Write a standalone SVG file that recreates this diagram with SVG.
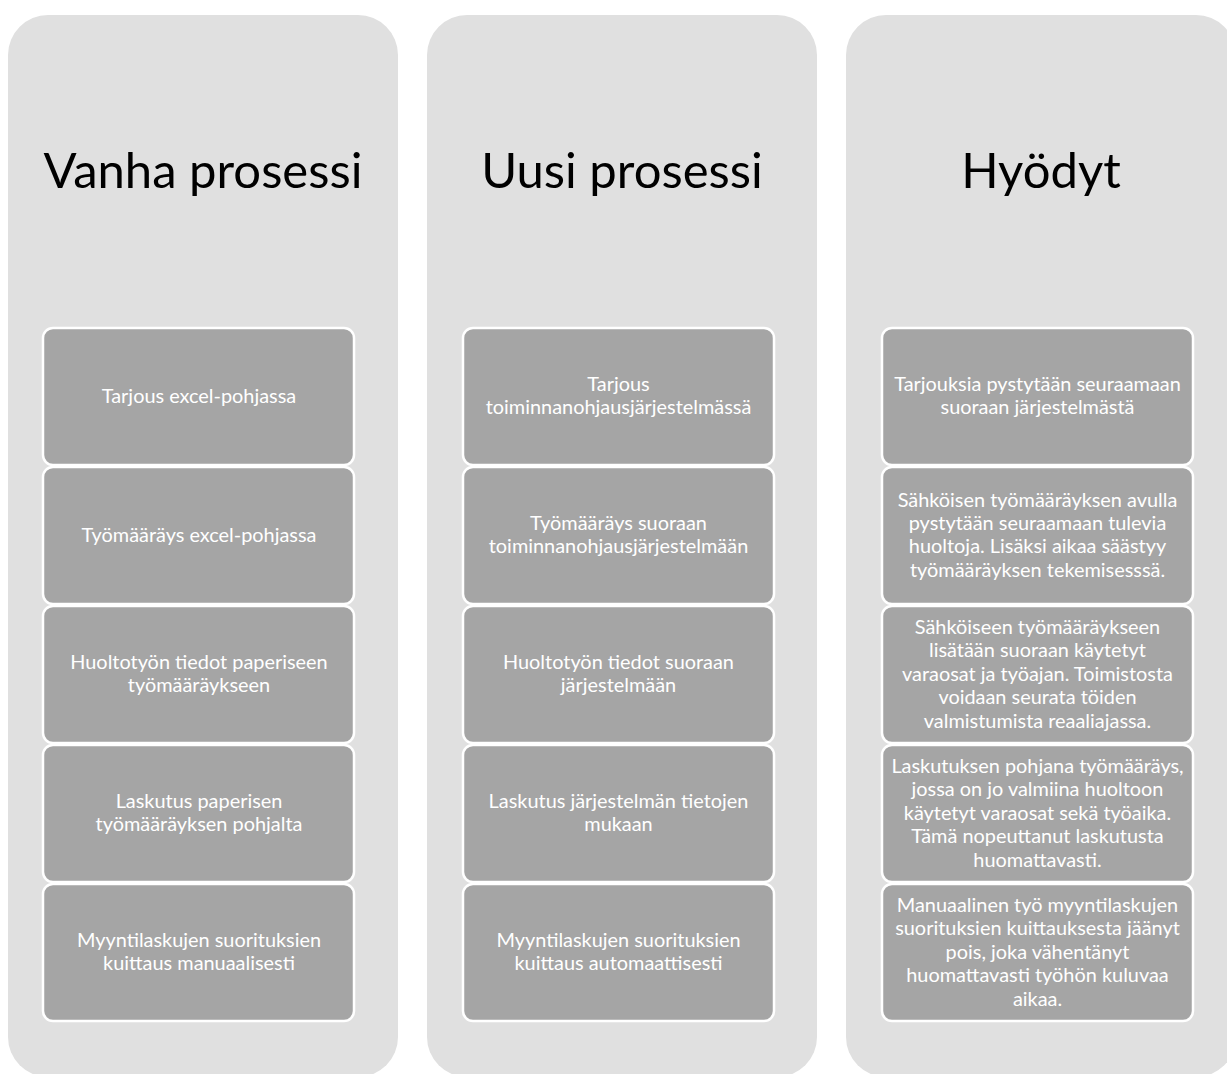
<svg xmlns="http://www.w3.org/2000/svg" width="1227" height="1074" viewBox="0 0 1227 1074">
  <style>
    .col { fill: #e0e0e0; }
    .box { fill: #a5a5a5; stroke: #ffffff; stroke-width: 2.5; }
    .head { font-family: Lato, "Liberation Sans", sans-serif; font-size: 49px; fill: #000000; text-anchor: middle; }
    .lbl { font-family: Lato, "Liberation Sans", sans-serif; font-size: 19.9px; fill: #ffffff; text-anchor: middle; }
  </style>
  <rect width="1227" height="1074" fill="#ffffff"/>

  <!-- Column 1: old process -->
  <g id="col-vanha">
    <rect class="col" x="8" y="15" width="390" height="1062" rx="40"/>
    <text class="head" x="203" y="188">Vanha prosessi</text>
  </g>
  <g id="vanha-1"><rect class="box" x="43" y="328" width="311" height="137" rx="10"/>
    <text class="lbl" x="199" y="402.75">Tarjous excel-pohjassa</text></g>
  <g id="vanha-2"><rect class="box" x="43" y="467" width="311" height="137" rx="10"/>
    <text class="lbl" x="199" y="541.75">Työmääräys excel-pohjassa</text></g>
  <g id="vanha-3"><rect class="box" x="43" y="606" width="311" height="137" rx="10"/>
    <text class="lbl" x="199" y="669.05">Huoltotyön tiedot paperiseen<tspan x="199" y="692.45">työmääräykseen</tspan></text></g>
  <g id="vanha-4"><rect class="box" x="43" y="745" width="311" height="137" rx="10"/>
    <text class="lbl" x="199" y="808.05">Laskutus paperisen<tspan x="199" y="831.45">työmääräyksen pohjalta</tspan></text></g>
  <g id="vanha-5"><rect class="box" x="43" y="884" width="311" height="137" rx="10"/>
    <text class="lbl" x="199" y="947.05">Myyntilaskujen suorituksien<tspan x="199" y="970.45">kuittaus manuaalisesti</tspan></text></g>

  <!-- Column 2: new process -->
  <g id="col-uusi">
    <rect class="col" x="427" y="15" width="390" height="1062" rx="40"/>
    <text class="head" x="622" y="188">Uusi prosessi</text>
  </g>
  <g id="uusi-1"><rect class="box" x="463" y="328" width="311" height="137" rx="10"/>
    <text class="lbl" x="618.5" y="391.05">Tarjous<tspan x="618.5" y="414.45">toiminnanohjausjärjestelmässä</tspan></text></g>
  <g id="uusi-2"><rect class="box" x="463" y="467" width="311" height="137" rx="10"/>
    <text class="lbl" x="618.5" y="530.05">Työmääräys suoraan<tspan x="618.5" y="553.45">toiminnanohjausjärjestelmään</tspan></text></g>
  <g id="uusi-3"><rect class="box" x="463" y="606" width="311" height="137" rx="10"/>
    <text class="lbl" x="618.5" y="669.05">Huoltotyön tiedot suoraan<tspan x="618.5" y="692.45">järjestelmään</tspan></text></g>
  <g id="uusi-4"><rect class="box" x="463" y="745" width="311" height="137" rx="10"/>
    <text class="lbl" x="618.5" y="808.05">Laskutus järjestelmän tietojen<tspan x="618.5" y="831.45">mukaan</tspan></text></g>
  <g id="uusi-5"><rect class="box" x="463" y="884" width="311" height="137" rx="10"/>
    <text class="lbl" x="618.5" y="947.05">Myyntilaskujen suorituksien<tspan x="618.5" y="970.45">kuittaus automaattisesti</tspan></text></g>

  <!-- Column 3: benefits -->
  <g id="col-hyodyt">
    <rect class="col" x="846" y="15" width="390" height="1062" rx="40"/>
    <text class="head" x="1041" y="188">Hyödyt</text>
  </g>
  <g id="hyoty-1"><rect class="box" x="882" y="328" width="311" height="137" rx="10"/>
    <text class="lbl" x="1037.5" y="391.05">Tarjouksia pystytään seuraamaan<tspan x="1037.5" y="414.45">suoraan järjestelmästä</tspan></text></g>
  <g id="hyoty-2"><rect class="box" x="882" y="467" width="311" height="137" rx="10"/>
    <text class="lbl" x="1037.5" y="506.65">Sähköisen työmääräyksen avulla<tspan x="1037.5" y="530.05">pystytään seuraamaan tulevia</tspan><tspan x="1037.5" y="553.45">huoltoja. Lisäksi aikaa säästyy</tspan><tspan x="1037.5" y="576.85">työmääräyksen tekemisesssä.</tspan></text></g>
  <g id="hyoty-3"><rect class="box" x="882" y="606" width="311" height="137" rx="10"/>
    <text class="lbl" x="1037.5" y="633.95">Sähköiseen työmääräykseen<tspan x="1037.5" y="657.35">lisätään suoraan käytetyt</tspan><tspan x="1037.5" y="680.75">varaosat ja työajan. Toimistosta</tspan><tspan x="1037.5" y="704.15">voidaan seurata töiden</tspan><tspan x="1037.5" y="727.55">valmistumista reaaliajassa.</tspan></text></g>
  <g id="hyoty-4"><rect class="box" x="882" y="745" width="311" height="137" rx="10"/>
    <text class="lbl" x="1037.5" y="772.95">Laskutuksen pohjana työmääräys,<tspan x="1037.5" y="796.35">jossa on jo valmiina huoltoon</tspan><tspan x="1037.5" y="819.75">käytetyt varaosat sekä työaika.</tspan><tspan x="1037.5" y="843.15">Tämä nopeuttanut laskutusta</tspan><tspan x="1037.5" y="866.55">huomattavasti.</tspan></text></g>
  <g id="hyoty-5"><rect class="box" x="882" y="884" width="311" height="137" rx="10"/>
    <text class="lbl" x="1037.5" y="911.95">Manuaalinen työ myyntilaskujen<tspan x="1037.5" y="935.35">suorituksien kuittauksesta jäänyt</tspan><tspan x="1037.5" y="958.75">pois, joka vähentänyt</tspan><tspan x="1037.5" y="982.15">huomattavasti työhön kuluvaa</tspan><tspan x="1037.5" y="1005.55">aikaa.</tspan></text></g>

  <!-- no connectors in this layout -->
  <g id="connectors"/>
</svg>
